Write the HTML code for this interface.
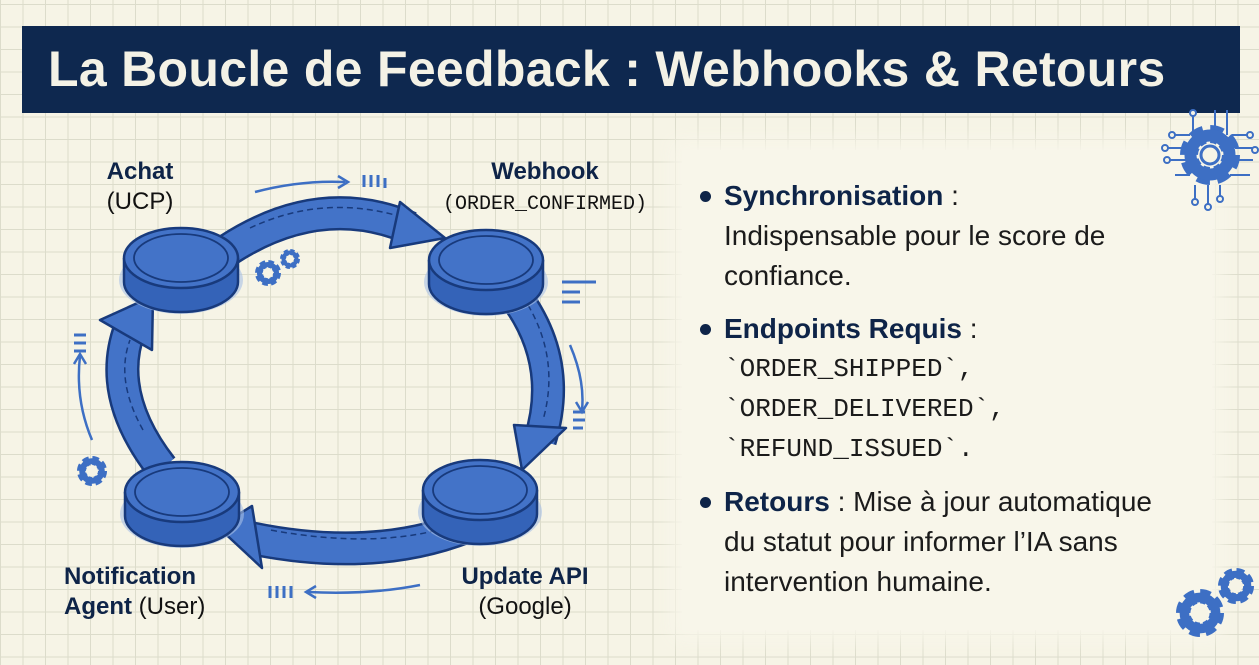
<!DOCTYPE html>
<html><head><meta charset="utf-8"><style>
html,body{margin:0;padding:0}
body{width:1259px;height:665px;overflow:hidden;position:relative;background-color:#f6f4e6;
background-image:linear-gradient(#dcdccb 1px,transparent 1px),linear-gradient(90deg,#dcdccb 1px,transparent 1px);background-size:22.5px 22.5px;background-position:0 4px;font-family:"Liberation Sans",sans-serif}
.title{position:absolute;left:22px;top:26px;width:1218px;height:87px;background:#0e284f;color:#f4f2e6;font-weight:bold;font-size:50px;line-height:87px;padding-left:26px;box-sizing:border-box;letter-spacing:0.3px}
.panel{position:absolute;left:682px;top:150px;width:530px;height:480px;background:#f8f6ea;box-shadow:0 0 18px 10px #f8f6ea}
.txt{position:absolute;left:700px;top:176px;font-size:28px;color:#1b1b1b;line-height:40px}
.txt b{color:#0e2448}
.txt .it{position:relative;padding-left:24px;margin-bottom:13px}
.txt .it:before{content:"";position:absolute;left:0;top:15px;width:11px;height:11px;border-radius:50%;background:#0e2448}
.mono{font-family:"Liberation Mono",monospace;font-size:26px;line-height:40px}
.txt .mono{display:block}
.lbl{position:absolute;font-size:24px;color:#111;text-align:center;line-height:30px}
.lbl b{color:#0e2448}
</style></head><body>
<div class="title">La Boucle de Feedback : Webhooks &amp; Retours</div>
<div class="panel"></div>
<svg width="1259" height="665" style="position:absolute;left:0;top:0">
<defs>
<g id="disk">
<ellipse cx="0" cy="22" rx="62" ry="34" fill="#a9c0e6" opacity="0.6"/>
<path d="M-57,0 v24 a57,30 0 0 0 114,0 v-24" fill="#3463b8" stroke="#183a7c" stroke-width="2.5"/>
<ellipse cx="0" cy="0" rx="57" ry="30" fill="#4373c8" stroke="#183a7c" stroke-width="2.5"/>
<ellipse cx="0" cy="0" rx="47" ry="24" fill="#4373c8" stroke="#183a7c" stroke-width="1.8"/>
</g>
<g id="gear"><circle r="7" fill="none" stroke="#3d6fc4" stroke-width="6" stroke-dasharray="3.5 2"/><circle r="6.5" fill="none" stroke="#3d6fc4" stroke-width="4"/><circle r="3.5" fill="#f6f4e6"/></g>
</defs>
<g fill="none" stroke-linecap="butt">
<path d="M228,250 Q320,190 410,228" stroke="#183a7c" stroke-width="34"/>
<path d="M228,250 Q320,190 410,228" stroke="#4373c8" stroke-width="29"/>
<path d="M250,228 Q320,195 395,215" stroke="#183a7c" stroke-width="1.5" stroke-dasharray="6 4"/>
<path d="M512,292 Q565,360 540,440" stroke="#183a7c" stroke-width="34"/>
<path d="M512,292 Q565,360 540,440" stroke="#4373c8" stroke-width="29"/>
<path d="M528,305 Q560,360 543,420" stroke="#183a7c" stroke-width="1.5" stroke-dasharray="6 4"/>
<path d="M478,522 Q380,565 250,538" stroke="#183a7c" stroke-width="34"/>
<path d="M478,522 Q380,565 250,538" stroke="#4373c8" stroke-width="29"/>
<path d="M455,525 Q380,550 270,530" stroke="#183a7c" stroke-width="1.5" stroke-dasharray="6 4"/>
<path d="M162,468 Q105,395 130,328" stroke="#183a7c" stroke-width="34"/>
<path d="M162,468 Q105,395 130,328" stroke="#4373c8" stroke-width="29"/>
<path d="M143,430 Q115,380 130,340" stroke="#183a7c" stroke-width="1.5" stroke-dasharray="6 4"/>
</g>
<g fill="#4373c8" stroke="#183a7c" stroke-width="2.5" stroke-linejoin="round">
<polygon points="400,202 445,238 390,248"/>
<polygon points="514,425 566,428 522,470"/>
<polygon points="252,506 218,527 262,568"/>
<polygon points="100,320 153,296 152,350"/>
</g>
<use href="#disk" x="181" y="258"/>
<use href="#disk" x="486" y="260"/>
<use href="#disk" x="182" y="492"/>
<use href="#disk" x="480" y="490"/>
<g stroke="#3d6fc4" stroke-width="2.5" fill="none">
<path d="M255,192 Q300,180 345,182"/><path d="M338,176 L348,182 L338,188"/>
<path d="M570,345 Q585,380 582,410"/><path d="M576,402 L582,412 L588,402"/>
<path d="M420,585 Q370,595 308,592"/><path d="M316,586 L306,592 L316,598"/>
<path d="M92,440 Q75,400 80,356"/><path d="M74,364 L80,354 L86,364"/>
</g>
<g stroke="#3d6fc4" stroke-width="3">
<path d="M364,175v12M371,175v12M378,175v12M385,178v10" />
<path d="M573,412h12M573,420h12M573,428h10"/>
<path d="M270,586v12M277,586v12M284,586v12M291,586v12"/>
<path d="M74,335h12M74,343h12M74,351h12"/>
<path d="M562,282h34M562,292h18M562,302h18"/>
</g>
<g transform="translate(268,273) scale(1.3)"><use href="#gear"/></g>
<g transform="translate(290,259)"><use href="#gear"/></g>
<g transform="translate(92,471) scale(1.5)"><use href="#gear"/></g>
<g transform="translate(1200,613) scale(2.4)"><use href="#gear"/></g>
<g transform="translate(1236,586) scale(1.8)"><use href="#gear"/></g>
<g stroke="#3d6fc4" stroke-width="2" fill="none">
<path d="M1193,115v20M1215,110v25M1227,110v25M1175,135h15M1168,148h20M1170,160h18M1175,175h15M1232,135h15M1235,148h18M1235,160h18M1230,175h20M1195,185v15M1208,185v20M1220,185v12"/>
<g fill="#f6f4e6"><circle cx="1193" cy="113" r="3"/><circle cx="1172" cy="135" r="3"/><circle cx="1165" cy="148" r="3"/><circle cx="1167" cy="160" r="3"/><circle cx="1250" cy="135" r="3"/><circle cx="1255" cy="150" r="3"/><circle cx="1195" cy="202" r="3"/><circle cx="1208" cy="207" r="3"/><circle cx="1220" cy="199" r="3"/></g>
</g>
<g transform="translate(1210,155) scale(3)"><use href="#gear"/></g>
<circle cx="1210" cy="155" r="9" fill="none" stroke="#3d6fc4" stroke-width="3"/>
</svg>
<div class="lbl" style="left:85px;top:157px;width:110px"><b>Achat</b><br>(UCP)</div>
<div class="lbl" style="left:430px;top:157px;width:230px"><b>Webhook</b><br><span class="mono" style="font-size:20px;line-height:30px">(ORDER_CONFIRMED)</span></div>
<div class="lbl" style="left:40px;top:562px;width:200px;text-align:left;padding-left:24px"><b>Notification</b><br><b>Agent</b> (User)</div>
<div class="lbl" style="left:440px;top:562px;width:170px"><b>Update API</b><br>(Google)</div>
<div class="txt">
<div class="it"><b>Synchronisation</b> :<br>Indispensable pour le score de<br>confiance.</div>
<div class="it"><b>Endpoints Requis</b> :<span class="mono">`ORDER_SHIPPED`,<br>`ORDER_DELIVERED`,<br>`REFUND_ISSUED`.</span></div>
<div class="it"><b>Retours</b> : Mise à jour automatique<br>du statut pour informer l’IA sans<br>intervention humaine.</div>
</div>
</body></html>
